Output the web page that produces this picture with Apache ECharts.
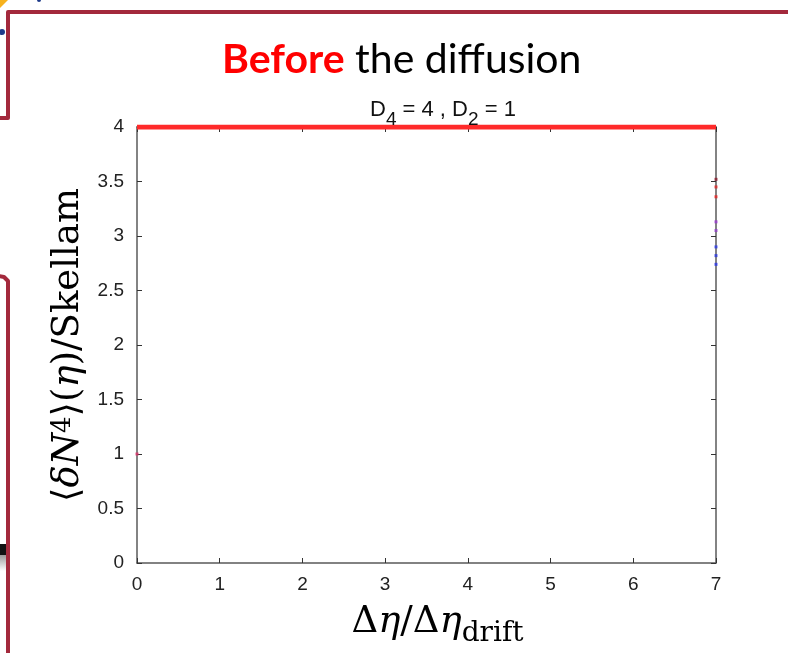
<!DOCTYPE html>
<html>
<head>
<meta charset="utf-8">
<script src="https://cdn.jsdelivr.net/npm/echarts@6/dist/echarts.min.js"></script>
<style>
  html, body { margin: 0; padding: 0; background: #fff; }
  #chart { width: 788px; height: 653px; }
</style>
</head>
<body>
<div id="chart"></div>
<script>
// Plateau of the fourth-order cumulant ratio before any diffusion.
const plateauX = [0, 7];
const plateauY = [4, 4];

// Start point at the left edge.
const startX = [0];
const startY = [1];

// Cluster of points at the right edge of the range.
const edgeX = [7, 7, 7, 7, 7, 7, 7, 7];
const edgeY = [3.52, 3.45, 3.36, 3.13, 3.05, 2.90, 2.82, 2.74];
const edgeColors = ['#8b1a2a', '#e02828', '#e82020', '#9a3ad0', '#9040c8', '#2a3ae8', '#2a38e0', '#2a34e8'];

// Axis ticks.
const xTicks = [0, 1, 2, 3, 4, 5, 6, 7];
const yTicks = [0, 0.5, 1, 1.5, 2, 2.5, 3, 3.5, 4];

const chart = echarts.init(document.getElementById('chart'), null, { renderer: 'canvas' });

const frameColor = '#a3293c';
const axisGray = '#5a5a5a';
const mathFont = 'DejaVu Serif';

const axisCommon = {
  axisLine: { show: true, onZero: false, lineStyle: { color: axisGray, width: 1.5 } },
  axisTick: { show: true, inside: true, length: 5, lineStyle: { color: '#333', width: 1 } },
  splitLine: { show: false }
};

const option = {
  backgroundColor: '#ffffff',
  animation: false,
  title: [
    {
      left: 217, top: 34,
      text: '{r|Before}{k| the diffusion}',
      textStyle: {
        fontWeight: 'normal',
        rich: {
          r: { fontFamily: 'Lato', fontWeight: 'bold', fontSize: 41, color: '#ff0000' },
          k: { fontFamily: 'Lato', fontWeight: 'normal', fontSize: 41, color: '#000000' }
        }
      }
    },
    {
      left: 365, top: 94,
      text: '{m|D}{s|4}{m| = 4 , D}{s|2}{m| = 1}',
      textStyle: {
        fontWeight: 'normal',
        rich: {
          m: { fontFamily: 'Liberation Sans', fontWeight: 'normal', fontSize: 22, color: '#111', lineHeight: 20, verticalAlign: 'top' },
          s: { fontFamily: 'Liberation Sans', fontWeight: 'normal', fontSize: 19, color: '#111', lineHeight: 30, verticalAlign: 'bottom' }
        }
      }
    }
  ],
  grid: { left: 137, right: 72, top: 127, bottom: 90, containLabel: false },
  xAxis: [
    Object.assign({}, axisCommon, {
      type: 'value', min: 0, max: 7, interval: 1, position: 'bottom',
      axisLabel: { show: true, margin: 12, color: '#222', fontFamily: 'Liberation Sans', fontSize: 19,
        formatter: v => xTicks.includes(v) ? String(v) : '' },
      name: '{g|Δ}{i|η}{g|/Δ}{i|η}{sub|drift}',
      nameLocation: 'middle', nameGap: 41,
      nameTextStyle: {
        padding: [0, 0, 0, 22],
        rich: {
          g: { fontFamily: mathFont, fontSize: 37, color: '#000', lineHeight: 20, verticalAlign: 'top' },
          i: { fontFamily: mathFont, fontStyle: 'italic', fontSize: 37, color: '#000', lineHeight: 20, verticalAlign: 'top' },
          sub: { fontFamily: mathFont, fontSize: 28, color: '#000', lineHeight: 44, verticalAlign: 'bottom' }
        }
      }
    }),
    Object.assign({}, axisCommon, {
      type: 'value', min: 0, max: 7, interval: 1, position: 'top',
      axisLabel: { show: false }
    })
  ],
  yAxis: [
    Object.assign({}, axisCommon, {
      type: 'value', min: 0, max: 4, interval: 0.5, position: 'left',
      axisLabel: { show: true, margin: 13, color: '#222', fontFamily: 'Liberation Sans', fontSize: 19,
        formatter: v => yTicks.includes(v) ? String(v) : '' },
      name: '{g|⟨}{i|δN}{sup|4}{g|⟩(}{i|η}{g|)/Skellam}',
      nameLocation: 'middle', nameGap: 41, nameRotate: 90,
      nameTextStyle: {
        rich: {
          g: { fontFamily: mathFont, fontSize: 37, color: '#000', lineHeight: 36, verticalAlign: 'bottom' },
          i: { fontFamily: mathFont, fontStyle: 'italic', fontSize: 37, color: '#000', lineHeight: 36, verticalAlign: 'bottom' },
          sup: { fontFamily: mathFont, fontSize: 26, color: '#000', lineHeight: 10, verticalAlign: 'top' }
        }
      }
    }),
    Object.assign({}, axisCommon, {
      type: 'value', min: 0, max: 4, interval: 0.5, position: 'right',
      axisLabel: { show: false }
    })
  ],
  series: [
    {
      type: 'line', xAxisIndex: 0, yAxisIndex: 0,
      data: plateauX.map((x, i) => [x, plateauY[i]]),
      symbol: 'none', z: 5,
      lineStyle: { color: '#ff2a2a', width: 5 }
    },
    {
      type: 'scatter', xAxisIndex: 0, yAxisIndex: 0,
      data: startX.map((x, i) => [x, startY[i]]),
      symbol: 'rect', symbolSize: 3, z: 6,
      itemStyle: { color: '#e0306a' }
    },
    {
      type: 'scatter', xAxisIndex: 0, yAxisIndex: 0,
      data: edgeX.map((x, i) => ({ value: [x, edgeY[i]], itemStyle: { color: edgeColors[i] } })),
      symbol: 'rect', symbolSize: 3, z: 6
    }
  ],
  graphic: [
    // slide frame pieces around the chart
    {
      type: 'polyline', silent: true, z: 100,
      shape: { points: [[0, 118], [8, 118], [8, 12], [790, 12]] },
      style: { stroke: frameColor, lineWidth: 4, fill: null, lineJoin: 'round' }
    },
    {
      type: 'polyline', silent: true, z: 100,
      shape: { points: [[-2, 276], [4, 277], [8, 281], [8, 660]] },
      style: { stroke: frameColor, lineWidth: 4, fill: null, lineJoin: 'round' }
    },
    {
      type: 'rect', silent: true, z: 99,
      shape: { x: 0, y: 544, width: 6, height: 11 },
      style: { fill: '#111' }
    },
    {
      type: 'rect', silent: true, z: 99,
      shape: { x: 0, y: 555, width: 6, height: 16 },
      style: { fill: new echarts.graphic.LinearGradient(0, 0, 0, 1, [
        { offset: 0, color: '#9a9a9a' }, { offset: 1, color: '#ffffff' }
      ]) }
    },
    // icon fragments at the top-left corner
    {
      type: 'polygon', silent: true, z: 98,
      shape: { points: [[0, 0], [8, 0], [0, 8]] },
      style: { fill: '#f7b21e' }
    },
    {
      type: 'circle', silent: true, z: 98,
      shape: { cx: 2, cy: 32, r: 3 },
      style: { fill: '#1d3a8a' }
    },
    {
      type: 'circle', silent: true, z: 98,
      shape: { cx: 39, cy: 0, r: 2 },
      style: { fill: '#1d3a8a' }
    }
  ]
};

chart.setOption(option);
</script>
</body>
</html>
